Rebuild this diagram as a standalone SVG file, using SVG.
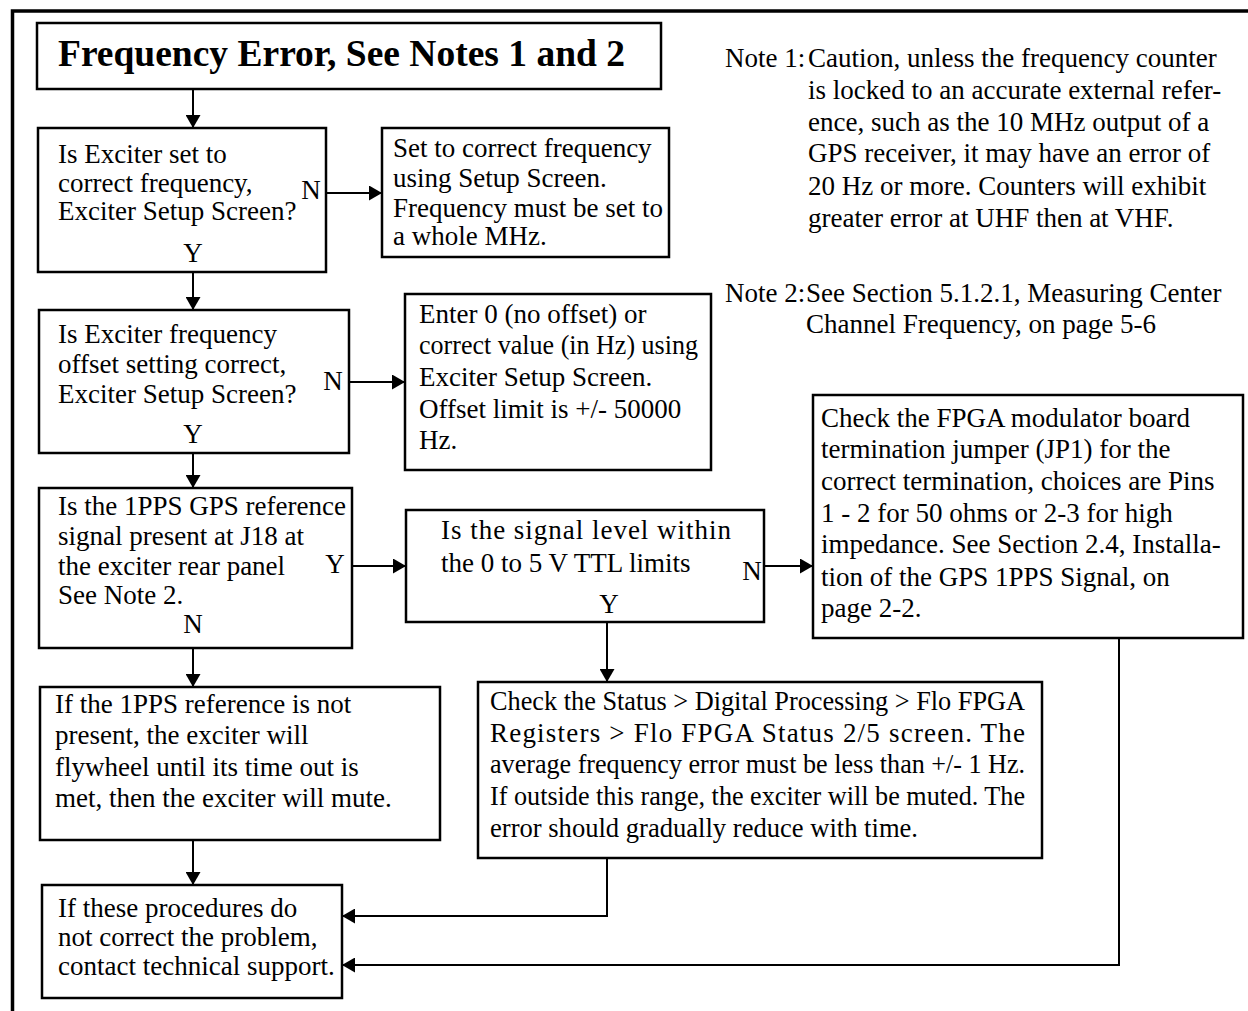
<svg xmlns="http://www.w3.org/2000/svg" width="1248" height="1011" viewBox="0 0 1248 1011">
  <style>
    .box { fill: #fff; stroke: #000; stroke-width: 2.5; }
    .frame { fill: none; stroke: #000; stroke-width: 3.5; }
    .wire { fill: none; stroke: #000; stroke-width: 2; }
    text { font-family: "Liberation Serif", "Times New Roman", serif; font-size: 27px; fill: #000; }
    .title { font-size: 37.5px; font-weight: bold; }
    .mid { text-anchor: middle; }
  </style>
  <defs>
    <marker id="arrow" viewBox="0 0 13 15" refX="13" refY="7.5" markerWidth="13" markerHeight="15" markerUnits="userSpaceOnUse" orient="auto">
      <path d="M0,0 L13,7.5 L0,15 Z" fill="#000"/>
    </marker>
  </defs>

  <rect width="1248" height="1011" fill="#fff"/>

  <!-- page frame: top and left rules -->
  <path class="frame" d="M12.5,1011 V11 H1248"/>

  <!-- connectors -->
  <g id="connectors">
    <path class="wire" d="M193,89 V128" marker-end="url(#arrow)"/>
    <path class="wire" d="M326,193 H382" marker-end="url(#arrow)"/>
    <path class="wire" d="M193,272 V310" marker-end="url(#arrow)"/>
    <path class="wire" d="M349,382 H405" marker-end="url(#arrow)"/>
    <path class="wire" d="M193,453 V488" marker-end="url(#arrow)"/>
    <path class="wire" d="M352,566 H406" marker-end="url(#arrow)"/>
    <path class="wire" d="M764,566 H813" marker-end="url(#arrow)"/>
    <path class="wire" d="M193,648 V687" marker-end="url(#arrow)"/>
    <path class="wire" d="M607,622 V682" marker-end="url(#arrow)"/>
    <path class="wire" d="M193,840 V885" marker-end="url(#arrow)"/>
    <path class="wire" d="M607,858 V916 H342" marker-end="url(#arrow)"/>
    <path class="wire" d="M1119,638 V965 H342" marker-end="url(#arrow)"/>
  </g>

  <!-- title -->
  <g id="title">
    <rect class="box" x="37" y="23" width="624" height="66"/>
    <text class="title" x="58" y="66">Frequency Error, See Notes 1 and 2</text>
  </g>

  <!-- notes -->
  <g id="notes">
    <text x="725" y="67">Note 1:</text>
    <text x="808" y="67">Caution, unless the frequency counter</text>
    <text x="808" y="99">is locked to an accurate external refer-</text>
    <text x="808" y="131">ence, such as the 10 MHz output of a</text>
    <text x="808" y="162">GPS receiver, it may have an error of</text>
    <text x="808" y="195">20 Hz or more. Counters will exhibit</text>
    <text x="808" y="227">greater error at UHF then at VHF.</text>
    <text x="725" y="302">Note 2:</text>
    <text x="806" y="302">See Section 5.1.2.1, Measuring Center</text>
    <text x="806" y="333">Channel Frequency, on page 5-6</text>
  </g>

  <g id="check-frequency">
    <rect class="box" x="38" y="128" width="288" height="144"/>
    <text x="58" y="163">Is Exciter set to</text>
    <text x="58" y="192">correct frequency,</text>
    <text x="58" y="220">Exciter Setup Screen?</text>
    <text class="mid" x="311" y="199">N</text>
    <text class="mid" x="193" y="262">Y</text>
  </g>

  <g id="set-frequency">
    <rect class="box" x="382" y="128" width="287" height="129"/>
    <text x="393" y="157">Set to correct frequency</text>
    <text x="393" y="187">using Setup Screen.</text>
    <text x="393" y="217">Frequency must be set to</text>
    <text x="393" y="245">a whole MHz.</text>
  </g>

  <g id="check-offset">
    <rect class="box" x="39" y="310" width="310" height="143"/>
    <text x="58" y="343">Is Exciter frequency</text>
    <text x="58" y="373">offset setting correct,</text>
    <text x="58" y="403">Exciter Setup Screen?</text>
    <text class="mid" x="333" y="390">N</text>
    <text class="mid" x="193" y="443">Y</text>
  </g>

  <g id="set-offset">
    <rect class="box" x="405" y="294" width="306" height="176"/>
    <text x="419" y="323">Enter 0 (no offset) or</text>
    <text x="419" y="354" textLength="279" lengthAdjust="spacingAndGlyphs">correct value (in Hz) using</text>
    <text x="419" y="386">Exciter Setup Screen.</text>
    <text x="419" y="418">Offset limit is +/- 50000</text>
    <text x="419" y="449">Hz.</text>
  </g>

  <g id="check-1pps">
    <rect class="box" x="39" y="488" width="313" height="160"/>
    <text x="58" y="515">Is the 1PPS GPS reference</text>
    <text x="58" y="545">signal present at J18 at</text>
    <text x="58" y="575">the exciter rear panel</text>
    <text x="58" y="604">See Note 2.</text>
    <text class="mid" x="335" y="573">Y</text>
    <text class="mid" x="193" y="633">N</text>
  </g>

  <g id="check-level">
    <rect class="box" x="406" y="510" width="358" height="112"/>
    <text x="441" y="539" textLength="290" lengthAdjust="spacing">Is the signal level within</text>
    <text x="441" y="572">the 0 to 5 V TTL limits</text>
    <text class="mid" x="752" y="580">N</text>
    <text class="mid" x="609" y="613">Y</text>
  </g>

  <g id="check-jumper">
    <rect class="box" x="813" y="395" width="430" height="243"/>
    <text x="821" y="427">Check the FPGA modulator board</text>
    <text x="821" y="458">termination jumper (JP1) for the</text>
    <text x="821" y="490">correct termination, choices are Pins</text>
    <text x="821" y="522">1 - 2 for 50 ohms or 2-3 for high</text>
    <text x="821" y="553">impedance. See Section 2.4, Installa-</text>
    <text x="821" y="586">tion of the GPS 1PPS Signal, on</text>
    <text x="821" y="617">page 2-2.</text>
  </g>

  <g id="no-1pps">
    <rect class="box" x="40" y="687" width="400" height="153"/>
    <text x="55" y="713">If the 1PPS reference is not</text>
    <text x="55" y="744">present, the exciter will</text>
    <text x="55" y="776">flywheel until its time out is</text>
    <text x="55" y="807">met, then the exciter will mute.</text>
  </g>

  <g id="check-status">
    <rect class="box" x="478" y="682" width="564" height="176"/>
    <text x="490" y="710" textLength="535" lengthAdjust="spacingAndGlyphs">Check the Status &gt; Digital Processing &gt; Flo FPGA</text>
    <text x="490" y="742" textLength="535" lengthAdjust="spacing">Registers &gt; Flo FPGA Status 2/5 screen. The</text>
    <text x="490" y="773" textLength="535" lengthAdjust="spacingAndGlyphs">average frequency error must be less than +/- 1 Hz.</text>
    <text x="490" y="805" textLength="535" lengthAdjust="spacingAndGlyphs">If outside this range, the exciter will be muted. The</text>
    <text x="490" y="837" textLength="428" lengthAdjust="spacingAndGlyphs">error should gradually reduce with time.</text>
  </g>

  <g id="contact-support">
    <rect class="box" x="42" y="885" width="300" height="113"/>
    <text x="58" y="917">If these procedures do</text>
    <text x="58" y="946">not correct the problem,</text>
    <text x="58" y="975">contact technical support.</text>
  </g>
</svg>
